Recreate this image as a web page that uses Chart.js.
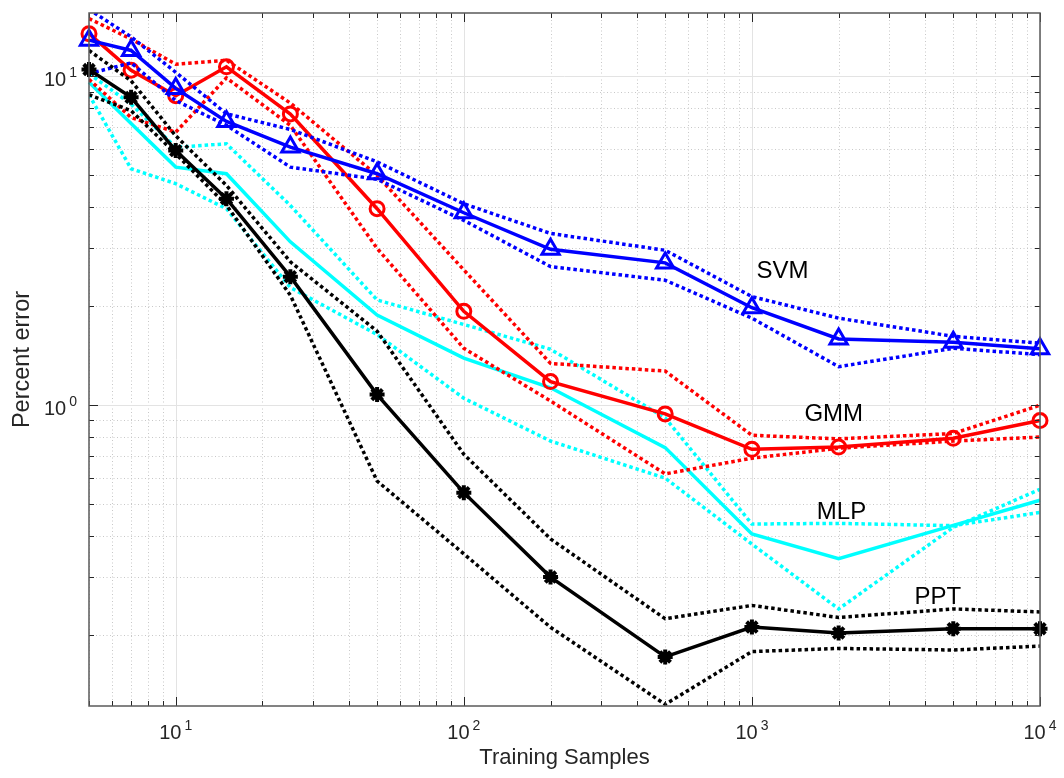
<!DOCTYPE html>
<html>
<head>
<meta charset="utf-8">
<script src="https://cdn.jsdelivr.net/npm/chart.js@4.4.0/dist/chart.umd.min.js"></script>
<style>
  html, body { margin: 0; padding: 0; background: #fff; }
  #wrap { width: 1064px; height: 778px; }
</style>
</head>
<body>
<div id="wrap"><canvas id="errChart" width="1064" height="778"></canvas></div>
<script>
// training set sizes (x)
const samples = [5, 7, 10, 15, 25, 50, 100, 200, 500, 1000, 2000, 5000, 10000];

// percent error, mean and dotted upper / lower bands
const svm   = [12.9, 12.0, 9.2, 7.3, 6.1, 5.06, 3.85, 2.98, 2.71, 1.98, 1.59, 1.555, 1.485];
const svmHi = [16.0, 13.2, 10.3, 7.7, 6.9, 5.5, 4.1, 3.33, 2.96, 2.14, 1.84, 1.62, 1.545];
const svmLo = [10.2, 11.0, 8.45, 7.1, 5.3, 4.87, 3.65, 2.64, 2.40, 1.84, 1.31, 1.49, 1.425];

const gmm   = [13.5, 10.45, 8.74, 10.7, 7.69, 3.96, 1.93, 1.18, 0.941, 0.734, 0.746, 0.793, 0.898];
const gmmHi = [15.0, 13.0, 10.9, 11.2, 8.3, 5.0, 2.58, 1.34, 1.27, 0.81, 0.79, 0.82, 1.0];
const gmmLo = [9.8, 7.5, 6.77, 9.9, 7.1, 3.0, 1.49, 1.03, 0.618, 0.69, 0.74, 0.778, 0.80];

const mlp   = [9.6, 7.2, 5.3, 5.06, 3.14, 1.88, 1.39, 1.13, 0.743, 0.406, 0.341, 0.431, 0.514];
const mlpHi = [10.2, 8.24, 6.09, 6.24, 4.05, 2.09, 1.76, 1.48, 0.915, 0.435, 0.437, 0.430, 0.472];
const mlpLo = [8.8, 5.24, 4.72, 3.96, 2.28, 1.64, 1.05, 0.778, 0.60, 0.378, 0.240, 0.425, 0.555];

const ppt   = [10.5, 8.64, 5.95, 4.25, 2.46, 1.077, 0.542, 0.300, 0.1715, 0.2114, 0.2028, 0.209, 0.209];
const pptHi = [12.0, 9.7, 6.6, 4.66, 2.73, 1.68, 0.709, 0.392, 0.224, 0.246, 0.226, 0.240, 0.235];
const pptLo = [8.8, 7.87, 5.82, 4.06, 2.16, 0.588, 0.353, 0.211, 0.123, 0.178, 0.182, 0.180, 0.185];

// labelled ticks
const xLabelTicks = [10, 100, 1000, 10000];
const yLabelTicks = [1, 10];

// text next to the curves (data coordinates)
const curveNames = [
  { text: 'SVM', x: 1276, y: 2.55 },
  { text: 'GMM', x: 1923, y: 0.94 },
  { text: 'MLP', x: 2047, y: 0.471 },
  { text: 'PPT', x: 4416, y: 0.260 }
];

const FONT = '"Liberation Sans", Arial, Helvetica, sans-serif';
const TXT = '#262626';

function pts(arr) {
  return samples.map((s, i) => ({ x: s, y: arr[i] }));
}

function mean(arr, color, marker, radius) {
  return {
    data: pts(arr),
    borderColor: color,
    borderWidth: 3.5,
    pointStyle: marker,
    pointRadius: radius,
    pointBorderColor: color,
    pointBackgroundColor: marker === 'star' ? color : 'rgba(0,0,0,0)',
    pointBorderWidth: marker === 'star' ? 4 : 3,
    tension: 0,
    clip: false
  };
}

function band(arr, color) {
  return {
    data: pts(arr),
    borderColor: color,
    borderWidth: 3.5,
    borderDash: [3.5, 3],
    borderCapStyle: 'butt',
    pointRadius: 0,
    tension: 0
  };
}

// "10" with a raised exponent, matlab style
function powerLabel(ctx, v) {
  const e = String(Math.round(Math.log10(v)));
  ctx.font = '20px ' + FONT;
  const wBase = ctx.measureText('10').width;
  ctx.font = '14px ' + FONT;
  const wExp = ctx.measureText(e).width;
  return { e, wBase, wExp, total: wBase + 3 + wExp };
}

function drawPower(ctx, lab, left, baseline) {
  ctx.textAlign = 'left';
  ctx.textBaseline = 'alphabetic';
  ctx.font = '20px ' + FONT;
  ctx.fillText('10', left, baseline);
  ctx.font = '14px ' + FONT;
  ctx.fillText(lab.e, left + lab.wBase + 3, baseline - 9);
}

// grid, box, inward ticks, tick labels and curve names, drawn like a matlab axes
const matlabAxes = {
  id: 'matlabAxes',
  beforeDatasetsDraw(chart) {
    const { ctx, chartArea: a, scales } = chart;
    const x = scales.x, y = scales.y;
    ctx.save();
    ctx.lineWidth = 1;
    for (let e = 0; e <= 4; e++) {
      for (let d = 1; d <= 9; d++) {
        const v = d * Math.pow(10, e);
        if (v < x.min || v > x.max) continue;
        const px = Math.round(x.getPixelForValue(v)) + 0.5;
        ctx.setLineDash(d === 1 ? [] : [1, 2.5]);
        ctx.strokeStyle = d === 1 ? '#e3e3e3' : '#c8c8c8';
        ctx.beginPath();
        ctx.moveTo(px, a.top);
        ctx.lineTo(px, a.bottom);
        ctx.stroke();
      }
    }
    for (let e = -1; e <= 1; e++) {
      for (let d = 1; d <= 9; d++) {
        const v = d * Math.pow(10, e);
        if (v < y.min || v > y.max) continue;
        const py = Math.round(y.getPixelForValue(v)) + 0.5;
        ctx.setLineDash(d === 1 ? [] : [1, 2.5]);
        ctx.strokeStyle = d === 1 ? '#e3e3e3' : '#c8c8c8';
        ctx.beginPath();
        ctx.moveTo(a.left, py);
        ctx.lineTo(a.right, py);
        ctx.stroke();
      }
    }
    ctx.restore();
  },
  afterDatasetsDraw(chart) {
    const { ctx, chartArea: a, scales } = chart;
    const x = scales.x, y = scales.y;
    ctx.save();
    ctx.setLineDash([]);
    ctx.strokeStyle = TXT;
    ctx.lineWidth = 1;
    for (let e = 0; e <= 4; e++) {
      for (let d = 1; d <= 9; d++) {
        const v = d * Math.pow(10, e);
        if (v < x.min || v > x.max) continue;
        const px = Math.round(x.getPixelForValue(v)) + 0.5;
        const len = d === 1 ? 9 : 5;
        ctx.beginPath();
        ctx.moveTo(px, a.bottom); ctx.lineTo(px, a.bottom - len);
        ctx.moveTo(px, a.top); ctx.lineTo(px, a.top + len);
        ctx.stroke();
      }
    }
    for (let e = -1; e <= 1; e++) {
      for (let d = 1; d <= 9; d++) {
        const v = d * Math.pow(10, e);
        if (v < y.min || v > y.max) continue;
        const py = Math.round(y.getPixelForValue(v)) + 0.5;
        const len = d === 1 ? 9 : 5;
        ctx.beginPath();
        ctx.moveTo(a.left, py); ctx.lineTo(a.left + len, py);
        ctx.moveTo(a.right, py); ctx.lineTo(a.right - len, py);
        ctx.stroke();
      }
    }
    ctx.strokeStyle = '#5a5a5a';
    ctx.lineWidth = 1.5;
    ctx.strokeRect(a.left, a.top, a.right - a.left, a.bottom - a.top);

    // tick labels
    ctx.fillStyle = TXT;
    xLabelTicks.forEach(v => {
      const lab = powerLabel(ctx, v);
      const px = x.getPixelForValue(v);
      drawPower(ctx, lab, px - lab.total / 2, a.bottom + 33);
    });
    yLabelTicks.forEach(v => {
      const lab = powerLabel(ctx, v);
      const py = y.getPixelForValue(v);
      drawPower(ctx, lab, a.left - 12 - lab.total, py + 10);
    });

    // curve names
    ctx.fillStyle = '#000';
    ctx.font = '24px ' + FONT;
    ctx.textAlign = 'center';
    ctx.textBaseline = 'middle';
    curveNames.forEach(c => {
      ctx.fillText(c.text, x.getPixelForValue(c.x), y.getPixelForValue(c.y));
    });
    ctx.restore();
  }
};

Chart.defaults.font.family = FONT;
Chart.defaults.color = TXT;

function noPad(s) {
  s.paddingTop = 0; s.paddingBottom = 0; s.paddingLeft = 0; s.paddingRight = 0;
}

new Chart(document.getElementById('errChart').getContext('2d'), {
  type: 'line',
  data: {
    datasets: [
      mean(ppt, '#000000', 'star', 7.5),
      band(pptHi, '#000000'),
      band(pptLo, '#000000'),
      mean(svm, '#0000ff', 'triangle', 10),
      band(svmHi, '#0000ff'),
      band(svmLo, '#0000ff'),
      mean(gmm, '#ff0000', 'circle', 7),
      band(gmmHi, '#ff0000'),
      band(gmmLo, '#ff0000'),
      mean(mlp, '#00ffff', 'circle', 0),
      band(mlpHi, '#00ffff'),
      band(mlpLo, '#00ffff')
    ]
  },
  options: {
    responsive: false,
    animation: false,
    devicePixelRatio: 1,
    layout: { padding: { top: 10, right: 24, left: 0, bottom: 0 } },
    plugins: { legend: { display: false }, tooltip: { enabled: false } },
    scales: {
      x: {
        type: 'logarithmic',
        min: 5,
        max: 10000,
        afterFit: s => { s.height = 72; noPad(s); },
        afterBuildTicks: s => { s.ticks = xLabelTicks.map(v => ({ value: v })); },
        grid: { display: false, drawTicks: false },
        border: { display: false },
        ticks: { display: false },
        title: { display: true, text: 'Training Samples', font: { size: 22 }, color: TXT, padding: { top: 0, bottom: 7 } }
      },
      y: {
        type: 'logarithmic',
        min: 0.1216,
        max: 15.6,
        afterFit: s => { s.width = 89; noPad(s); },
        afterBuildTicks: s => { s.ticks = yLabelTicks.map(v => ({ value: v })); },
        grid: { display: false, drawTicks: false },
        border: { display: false },
        ticks: { display: false },
        title: { display: true, text: 'Percent error', font: { size: 23.5 }, color: TXT, padding: { top: 8, bottom: 0 } }
      }
    }
  },
  plugins: [matlabAxes]
});
</script>
</body>
</html>
